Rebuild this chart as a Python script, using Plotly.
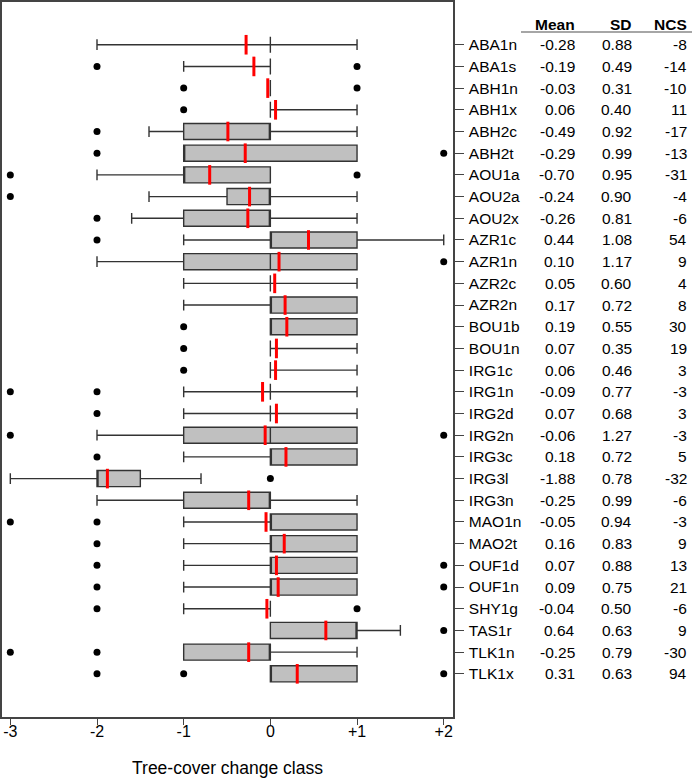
import plotly.graph_objects as go

# site codes, top to bottom
sites = ["ABA1n", "ABA1s", "ABH1n", "ABH1x", "ABH2c", "ABH2t", "AOU1a", "AOU2a",
         "AOU2x", "AZR1c", "AZR1n", "AZR2c", "AZR2n", "BOU1b", "BOU1n", "IRG1c",
         "IRG1n", "IRG2d", "IRG2n", "IRG3c", "IRG3l", "IRG3n", "MAO1n", "MAO2t",
         "OUF1d", "OUF1n", "SHY1g", "TAS1r", "TLK1n", "TLK1x"]

# box statistics
lower = [-2, -1, 0, 0, -1.4, -1, -2, -1.4, -1.6, -1, -2, -1, -1, 0, 0, 0,
         -1, -1, -2, -1, -3, -2, -1, -1, -1, -1, -1, 0, -1, 0]
q1 = [0, 0, 0, 0, -1, -1, -1, -0.5, -1, 0, -1, 0, 0, 0, 0, 0,
      0, 0, -1, 0, -2, -1, 0, 0, 0, 0, 0, 0, -1, 0]
med = [0, 0, 0, 0, 0, -1, -1, 0, 0, 0, 0, 0, 0, 0, 0, 0,
       0, 0, 0, 0, -2, 0, 0, 0, 0, 0, 0, 1, 0, 0]
q3 = [0, 0, 0, 0, 0, 1, 0, 0, 0, 1, 1, 0, 1, 1, 0, 0,
      0, 0, 1, 1, -1.5, 0, 1, 1, 1, 1, 0, 1, 0, 1]
upper = [1, 0, 0, 1, 1, 1, 0, 1, 1, 2, 1, 1, 1, 1, 1, 1,
         1, 1, 1, 1, -0.8, 1, 1, 1, 1, 1, 0, 1.5, 1, 1]
outliers = [[], [-2, 1], [-1, 1], [-1], [-2], [-2, 2], [-3, 1], [-3],
            [-2], [-2], [2], [], [], [-1], [-1], [-1],
            [-3, -2], [-2], [-3, 2], [-2], [0], [], [-3, -2], [-2],
            [-2, 2], [-2, 2], [-2, 1], [2], [-3, -2], [-2, -1, 2]]

# table columns
mean = [-0.28, -0.19, -0.03, 0.06, -0.49, -0.29, -0.70, -0.24, -0.26, 0.44,
        0.10, 0.05, 0.17, 0.19, 0.07, 0.06, -0.09, 0.07, -0.06, 0.18,
        -1.88, -0.25, -0.05, 0.16, 0.07, 0.09, -0.04, 0.64, -0.25, 0.31]
sd = [0.88, 0.49, 0.31, 0.40, 0.92, 0.99, 0.95, 0.90, 0.81, 1.08,
      1.17, 0.60, 0.72, 0.55, 0.35, 0.46, 0.77, 0.68, 1.27, 0.72,
      0.78, 0.99, 0.94, 0.83, 0.88, 0.75, 0.50, 0.63, 0.79, 0.63]
ncs = [-8, -14, -10, 11, -17, -13, -31, -4, -6, 54,
       9, 4, 8, 30, 19, 3, -3, 3, -3, 5,
       -32, -6, -3, 9, 13, 21, -6, 9, -30, 94]

xticks = [-3, -2, -1, 0, 1, 2]
xticklabels = ["-3", "-2", "-1", "0", "+1", "+2"]

FONT = "Liberation Sans, Arial, sans-serif"
FRAME = "#444444"

fig = go.Figure()

fig.add_trace(go.Box(
    orientation="h",
    y=sites,
    lowerfence=lower, q1=q1, median=med, q3=q3, upperfence=upper,
    width=0.74,
    whiskerwidth=0.67,
    fillcolor="#c0c0c0",
    line=dict(color="#333333", width=1.4),
    boxpoints=False,
    showlegend=False,
))

# outlying points
ox, oy = [], []
for s, pts in zip(sites, outliers):
    for p in pts:
        ox.append(p)
        oy.append(s)
fig.add_trace(go.Scatter(
    x=ox, y=oy, mode="markers",
    marker=dict(color="black", size=7),
    showlegend=False,
))

# red mean ticks
fig.add_trace(go.Scatter(
    x=mean, y=sites, mode="markers",
    marker=dict(symbol="line-ns", size=14, line=dict(width=3, color="red")),
    showlegend=False,
))

# table to the right of the axis
def px_to_paper(px):
    return (px - 2) / 451

cols = [(px_to_paper(577), "Mean", [f"{m:.2f}" for m in mean]),
        (px_to_paper(634), "SD", [f"{s:.2f}" for s in sd]),
        (px_to_paper(689), "NCS", [str(n) for n in ncs])]
annotations = []
for cx, head, vals in cols:
    annotations.append(dict(
        x=cx, y=1 - 22 / 715, xref="paper", yref="paper",
        text="<b>" + head + "</b>", showarrow=False,
        xanchor="right", yanchor="middle",
        font=dict(family=FONT, size=15.5, color="black")))
    for s, v in zip(sites, vals):
        annotations.append(dict(
            x=cx, y=s, xref="paper", yref="y",
            text=v, showarrow=False,
            xanchor="right", yanchor="middle",
            font=dict(family=FONT, size=15.5, color="black")))

fig.update_layout(
    width=692, height=781,
    margin=dict(l=2, r=239, t=2, b=64),
    paper_bgcolor="white", plot_bgcolor="white",
    font=dict(family=FONT, size=15.5, color="black"),
    annotations=annotations,
    shapes=[dict(type="line", xref="paper", yref="paper",
                 x0=px_to_paper(521), x1=px_to_paper(692),
                 y0=1 - 30 / 715, y1=1 - 30 / 715,
                 line=dict(color="#888888", width=1.5))],
    xaxis=dict(
        range=[-3.096, 2.107],
        tickvals=xticks, ticktext=xticklabels,
        ticks="outside", ticklen=6, tickcolor=FRAME, tickwidth=1.2,
        ticklabelstandoff=-7,
        showline=True, linecolor=FRAME, linewidth=1.5, mirror=True,
        showgrid=False, zeroline=False,
        tickfont=dict(family=FONT, size=16),
        title=dict(text="Tree-cover change class", standoff=23,
                   font=dict(family=FONT, size=17.5)),
        automargin=False,
    ),
    yaxis=dict(
        type="category",
        categoryorder="array", categoryarray=sites,
        range=[30.99, -1.97],
        side="right",
        ticks="outside", ticklen=9, tickcolor=FRAME, tickwidth=1.2,
        ticklabelstandoff=2,
        showline=True, linecolor=FRAME, linewidth=1.5, mirror=True,
        showgrid=False, zeroline=False,
        tickfont=dict(family=FONT, size=15.5),
        automargin=False,
    ),
)

# drop the default page margin so the figure sits at the window's corner
fig.write_html("out.html", config={"displayModeBar": False},
               post_script="document.body.style.margin='0';")
